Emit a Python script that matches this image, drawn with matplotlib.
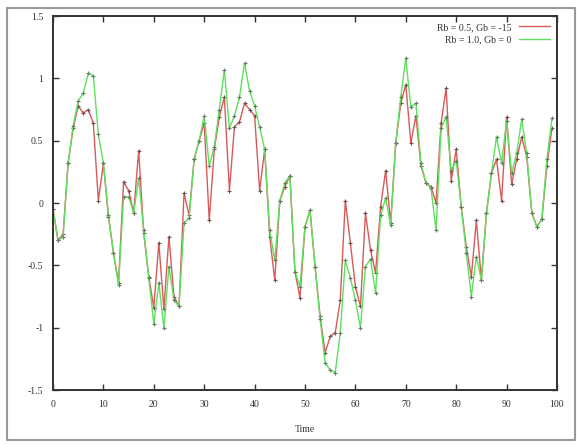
import matplotlib
matplotlib.use("Agg")
import matplotlib.pyplot as plt
from matplotlib.lines import Line2D

# data (one sample per unit of time)
time = list(range(100))
red_vals = [
    -0.05, -0.30, -0.25, 0.32, 0.60, 0.78, 0.72, 0.75, 0.64, 0.02,
    0.32, -0.11, -0.40, -0.64, 0.17, 0.10, -0.08, 0.42, -0.24, -0.59,
    -0.84, -0.32, -0.85, -0.27, -0.75, -0.83, 0.08, -0.10, 0.35, 0.50,
    0.64, -0.14, 0.43, 0.69, 0.85, 0.10, 0.61, 0.65, 0.80, 0.75,
    0.70, 0.10, 0.43, -0.27, -0.62, 0.02, 0.13, 0.22, -0.55, -0.76,
    -0.19, -0.06, -0.51, -0.91, -1.20, -1.07, -1.04, -0.78, 0.02, -0.32,
    -0.67, -0.83, -0.08, -0.38, -0.56, -0.03, 0.26, -0.16, 0.48, 0.80,
    0.95, 0.48, 0.70, 0.30, 0.16, 0.13, 0.00, 0.64, 0.92, 0.18,
    0.43, -0.03, -0.35, -0.59, -0.14, -0.62, -0.08, 0.24, 0.35, 0.02,
    0.69, 0.15, 0.35, 0.53, 0.37, -0.08, -0.19, -0.13, 0.30, 0.60,
]
green_vals = [
    -0.05, -0.30, -0.27, 0.32, 0.62, 0.82, 0.88, 1.04, 1.02, 0.55,
    0.32, -0.10, -0.40, -0.66, 0.05, 0.05, -0.08, 0.20, -0.22, -0.60,
    -0.97, -0.64, -1.00, -0.51, -0.78, -0.83, -0.16, -0.12, 0.35, 0.50,
    0.70, 0.30, 0.45, 0.75, 1.07, 0.60, 0.70, 0.85, 1.12, 0.90,
    0.78, 0.61, 0.43, -0.22, -0.46, 0.02, 0.16, 0.22, -0.55, -0.67,
    -0.19, -0.06, -0.51, -0.93, -1.28, -1.34, -1.36, -1.04, -0.46, -0.60,
    -0.78, -1.00, -0.51, -0.45, -0.72, -0.10, 0.04, -0.18, 0.48, 0.85,
    1.16, 0.77, 0.80, 0.32, 0.16, 0.12, -0.22, 0.60, 0.69, 0.26,
    0.34, -0.03, -0.40, -0.75, -0.43, -0.62, -0.08, 0.24, 0.53, 0.32,
    0.66, 0.24, 0.40, 0.67, 0.40, -0.08, -0.19, -0.13, 0.35, 0.68,
]
red_label = "Rb = 0.5, Gb = -15"
green_label = "Rb = 1.0, Gb = 0"
x_ticks = list(range(0, 101, 10))
y_ticks = [-1.5, -1, -0.5, 0, 0.5, 1, 1.5]
y_tick_labels = ["-1.5", "-1", "-0.5", "0", "0.5", "1", "1.5"]

plt.rcParams["font.family"] = ["Liberation Serif", "DejaVu Serif"]

fig = plt.figure(figsize=(5.77, 4.44), dpi=100)
ax = fig.add_axes([53 / 577, 54 / 444, 504 / 577, 374 / 444])

ax.plot(time, red_vals, color="#d85a5a", linewidth=1.0, marker="+",
        markersize=3, markeredgecolor="#705050", markeredgewidth=0.8,
        label=red_label)
ax.plot(time, green_vals, color="#5ee05e", linewidth=1.0, marker="+",
        markersize=3, markeredgecolor="#608060", markeredgewidth=0.8,
        label=green_label)

ax.set_xlim(0, 100)
ax.set_ylim(-1.5, 1.5)
ax.set_xticks(x_ticks)
ax.set_xticklabels([str(v) for v in x_ticks])
ax.set_yticks(y_ticks)
ax.set_yticklabels(y_tick_labels)
ax.tick_params(direction="in", length=4, width=1, top=True, right=True,
               labelsize=7, colors="#333333", pad=7)
for s in ax.spines.values():
    s.set_linewidth(1.4)
    s.set_color("#333333")

ax.set_xlabel("Time", fontsize=7, color="#333333", labelpad=12)

leg = ax.legend(loc="upper right", frameon=False, fontsize=7,
                markerfirst=False, handlelength=3.2, borderaxespad=0.3,
                labelspacing=0.4)
for h in leg.get_lines():
    h.set_marker("")
for t in leg.get_texts():
    t.set_color("#333333")

# grey frame around the whole picture
fig.add_artist(Line2D([7 / 577, 575 / 577, 575 / 577, 7 / 577, 7 / 577],
                      [1 - 8 / 444, 1 - 8 / 444, 4 / 444, 4 / 444, 1 - 8 / 444],
                      transform=fig.transFigure, color="#999999",
                      linewidth=1.5))

fig.savefig("out.png", dpi=100)
